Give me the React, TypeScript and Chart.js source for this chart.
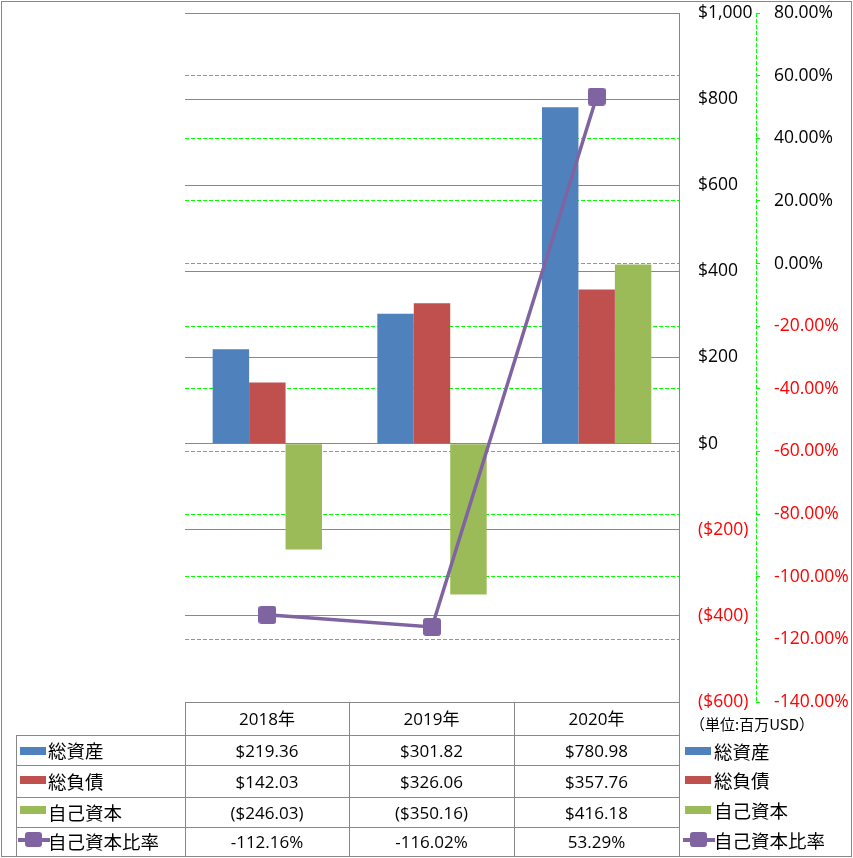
import React, { useEffect, useRef } from "react";
import { Chart, registerables } from "chart.js";

Chart.register(...registerables);

// ---------- data ----------
const categories = ["2018年", "2019年", "2020年"];
const seriesNames = ["総資産", "総負債", "自己資本", "自己資本比率"];
const totalAssets = [219.36, 301.82, 780.98];
const totalLiabilities = [142.03, 326.06, 357.76];
const equity = [-246.03, -350.16, 416.18];
const equityRatio = [-112.16, -116.02, 53.29];
const dollarTicks = [-600, -400, -200, 0, 200, 400, 600, 800, 1000];
const percentTicks = [-140, -120, -100, -80, -60, -40, -20, 0, 20, 40, 60, 80];
const unitLabel = "（単位:百万USD）";

// ---------- styles ----------
const BLUE = "#4F81BD";
const RED = "#C0504D";
const GREEN = "#9BBB59";
const PURPLE = "#8064A2";
const GRID_GRAY = "#888888";
const LIME = "#00FF00";
const DASH = [4, 2];
const LATIN = "'Open Sans', 'Noto Sans CJK JP', sans-serif";
const CJK = "'Noto Sans CJK JP', sans-serif";

const W = 853;
const H = 858;
const colX = [185, 349, 514, 679];
const headerTop = 702;
const rowY = [735, 765, 797, 827, 856];
const leftColX = 16;

const fmtMoney = (v: number) => (v < 0 ? `($${(-v).toFixed(2)})` : `$${v.toFixed(2)}`);
const fmtPct = (v: number) => `${v.toFixed(2)}%`;
const fmtAxisMoney = (v: number) =>
  v < 0 ? `($${Math.abs(v).toLocaleString("en-US")})` : `$${v.toLocaleString("en-US")}`;

function makeMarker(size: number, radius: number) {
  const c = document.createElement("canvas");
  c.width = size;
  c.height = size;
  const g = c.getContext("2d")!;
  g.fillStyle = PURPLE;
  g.beginPath();
  if ((g as any).roundRect) (g as any).roundRect(0, 0, size, size, radius);
  else g.rect(0, 0, size, size);
  g.fill();
  return c;
}

// dashed axis line for the percent axis (Chart.js draws axis borders solid)
const dashedAxisPlugin = {
  id: "dashedAxis",
  afterDraw(chart: any) {
    const s = chart.scales.y1;
    if (!s) return;
    const ctx = chart.ctx;
    const x = Math.round(s.left) + 0.5;
    ctx.save();
    ctx.strokeStyle = LIME;
    ctx.lineWidth = 1;
    ctx.setLineDash(DASH);
    ctx.beginPath();
    ctx.moveTo(x, s.top);
    ctx.lineTo(x, s.bottom);
    ctx.stroke();
    ctx.restore();
  },
};

const HLine = ({ x1, x2, y }: { x1: number; x2: number; y: number }) => (
  <div style={{ position: "absolute", left: x1, top: y, width: x2 - x1 + 1, height: 1, background: GRID_GRAY }} />
);
const VLine = ({ x, y1, y2 }: { x: number; y1: number; y2: number }) => (
  <div style={{ position: "absolute", left: x, top: y1, width: 1, height: y2 - y1 + 1, background: GRID_GRAY }} />
);

const Cell = ({
  x, y, w, h, text, font, size, align = "center",
}: { x: number; y: number; w: number; h: number; text: string; font: string; size: number; align?: string }) => (
  <div
    style={{
      position: "absolute", left: x, top: y, width: w, height: h, display: "flex",
      alignItems: "center", justifyContent: align === "center" ? "center" : "flex-start",
      fontFamily: font, fontSize: size, color: "#000", whiteSpace: "nowrap", lineHeight: 1,
    }}
  >
    {text}
  </div>
);

const Swatch = ({ x, cy, color, line }: { x: number; cy: number; color: string; line?: boolean }) =>
  line ? (
    <>
      <div style={{ position: "absolute", left: x - 2, top: cy - 2, width: 32, height: 4, background: color }} />
      <div style={{ position: "absolute", left: x + 5, top: cy - 8, width: 17, height: 15, background: color, borderRadius: 3 }} />
    </>
  ) : (
    <div style={{ position: "absolute", left: x, top: cy - 4, width: 26, height: 8, background: color }} />
  );

export default function App() {
  const ref = useRef<HTMLCanvasElement>(null);

  useEffect(() => {
    if (!ref.current) return;
    const marker = makeMarker(18, 3);
    const chart = new Chart(ref.current, {
      type: "bar",
      data: {
        labels: categories,
        datasets: [
          {
            type: "line",
            label: seriesNames[3],
            data: equityRatio,
            yAxisID: "y1",
            borderColor: PURPLE,
            backgroundColor: PURPLE,
            borderWidth: 3.5,
            pointStyle: marker as any,
            pointRadius: 9,
            tension: 0,
            order: 0,
          } as any,
          { label: seriesNames[0], data: totalAssets, backgroundColor: BLUE, yAxisID: "y", order: 1 },
          { label: seriesNames[1], data: totalLiabilities, backgroundColor: RED, yAxisID: "y", order: 1 },
          { label: seriesNames[2], data: equity, backgroundColor: GREEN, yAxisID: "y", order: 1 },
        ],
      },
      options: {
        responsive: false,
        animation: false,
        layout: { padding: { left: 185, top: 13, right: 0, bottom: H - headerTop } },
        datasets: { bar: { categoryPercentage: 0.664, barPercentage: 1 } } as any,
        plugins: { legend: { display: false }, tooltip: { enabled: false } },
        scales: {
          x: { type: "category", display: false, offset: true },
          y: {
            position: "right",
            min: dollarTicks[0],
            max: dollarTicks[dollarTicks.length - 1],
            afterBuildTicks: (s: any) => {
              s.ticks = dollarTicks.map((v) => ({ value: v }));
            },
            afterFit: (s: any) => {
              s.width = 77;
              s.paddingTop = 0;
              s.paddingBottom = 0;
            },
            grid: { color: GRID_GRAY, lineWidth: 1, drawTicks: false },
            border: { display: true, color: GRID_GRAY, width: 1 },
            ticks: {
              padding: 19,
              font: { family: LATIN, size: 17.5 },
              color: (c: any) => (c.tick && c.tick.value < 0 ? "#FF0000" : "#000000"),
              callback: (v: any) => fmtAxisMoney(Number(v)),
            },
          },
          y1: {
            position: "right",
            min: percentTicks[0],
            max: percentTicks[percentTicks.length - 1],
            afterBuildTicks: (s: any) => {
              s.ticks = percentTicks.map((v) => ({ value: v }));
            },
            afterFit: (s: any) => {
              s.width = 97;
              s.paddingTop = 0;
              s.paddingBottom = 0;
            },
            grid: {
              color: (c: any) =>
                c.index === 0 || c.index === percentTicks.length - 1 ? "rgba(0,0,0,0)" : LIME,
              tickColor: LIME,
              tickLength: 4,
              drawTicks: true,
              lineWidth: 1,
              tickBorderDash: [],
            } as any,
            border: { display: false, dash: DASH },
            ticks: {
              padding: 14,
              font: { family: LATIN, size: 17.5 },
              color: (c: any) => (c.tick && c.tick.value < 0 ? "#FF0000" : "#000000"),
              callback: (v: any) => fmtPct(Number(v)),
            },
          },
        },
      },
      plugins: [dashedAxisPlugin as any],
    });
    return () => chart.destroy();
  }, []);

  const rows: { name: string; color: string; line?: boolean; values: string[] }[] = [
    { name: seriesNames[0], color: BLUE, values: totalAssets.map(fmtMoney) },
    { name: seriesNames[1], color: RED, values: totalLiabilities.map(fmtMoney) },
    { name: seriesNames[2], color: GREEN, values: equity.map(fmtMoney) },
    { name: seriesNames[3], color: PURPLE, line: true, values: equityRatio.map(fmtPct) },
  ];
  const legendCy = [751, 780, 810, 840];

  return (
    <div style={{ position: "relative", width: W, height: H, background: "#fff", overflow: "hidden" }}>
      <style>{`body{margin:0}`}</style>
      <canvas ref={ref} width={W} height={H} style={{ position: "absolute", left: 0, top: 0, width: W, height: H }} />
      {/* outer border */}
      <div
        style={{
          position: "absolute", left: 1, top: 1, width: 851, height: 856, boxSizing: "border-box",
          border: `1px solid ${GRID_GRAY}`,
        }}
      />
      {/* table lines */}
      <HLine x1={colX[0]} x2={colX[3]} y={headerTop} />
      {rowY.slice(0, 4).map((y, i) => (
        <HLine key={"h" + i} x1={leftColX} x2={colX[3]} y={y} />
      ))}
      {colX.map((x, i) => (
        <VLine key={"v" + i} x={x} y1={headerTop} y2={rowY[4]} />
      ))}
      <VLine x={leftColX} y1={rowY[0]} y2={rowY[4]} />
      {/* header */}
      {categories.map((c, i) => (
        <Cell key={"c" + i} x={colX[i]} y={headerTop} w={colX[i + 1] - colX[i]} h={rowY[0] - headerTop} text={c} font={LATIN} size={17} />
      ))}
      {/* rows */}
      {rows.map((r, ri) => (
        <React.Fragment key={"r" + ri}>
          <Swatch x={20} cy={legendCy[ri]} color={r.color} line={r.line} />
          <Cell x={48} y={rowY[ri]} w={140} h={rowY[ri + 1] - rowY[ri]} text={r.name} font={CJK} size={18.5} align="left" />
          {r.values.map((v, ci) => (
            <Cell key={"v" + ci} x={colX[ci]} y={rowY[ri]} w={colX[ci + 1] - colX[ci]} h={rowY[ri + 1] - rowY[ri]} text={v} font={LATIN} size={17} />
          ))}
          {/* right legend */}
          <Swatch x={685} cy={legendCy[ri]} color={r.color} line={r.line} />
          <Cell x={714} y={legendCy[ri] - 15} w={135} h={30} text={r.name} font={CJK} size={18.5} align="left" />
        </React.Fragment>
      ))}
      <Cell x={690} y={710} w={160} h={26} text={unitLabel} font={CJK} size={15} align="left" />
    </div>
  );
}
